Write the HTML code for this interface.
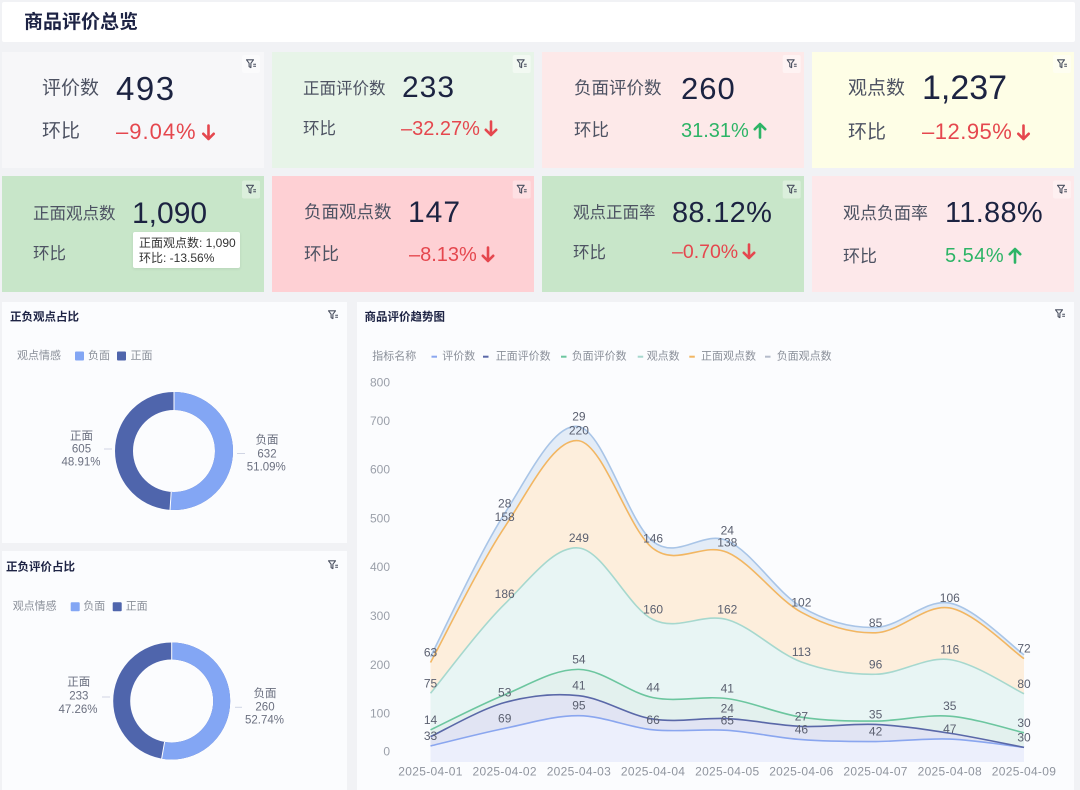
<!DOCTYPE html>
<html><head><meta charset="utf-8"><style>
html,body{margin:0;padding:0;}
body{width:1080px;height:790px;background:#f1f2f5;position:relative;overflow:hidden;font-family:"Liberation Sans","Noto Sans CJK SC",sans-serif;}
.box{position:absolute;}
.t{position:absolute;white-space:nowrap;line-height:1;}
.lab{color:#4d5262;}
.val{color:#1c2341;letter-spacing:1px;}
.dn{color:#e5474e;}
.up{color:#2db466;}
.t svg{vertical-align:-2px;margin-left:4px;}
svg text{font-family:"Liberation Sans","Noto Sans CJK SC",sans-serif;}
</style></head><body>
<div class="box" style="left:2px;top:2px;width:1073px;height:40px;background:#fff;border-radius:2px"></div>
<div class="t" style="left:24px;top:13px;font-size:19px;font-weight:bold;color:#1d2344">商品评价总览</div>

<!-- cards -->
<div class="box" style="left:2px;top:52px;width:262px;height:116px;background:#f7f7f9"></div>
<div class="box" style="left:272px;top:52px;width:262px;height:116px;background:#e7f4e8"></div>
<div class="box" style="left:542px;top:52px;width:262px;height:116px;background:#fde9e9"></div>
<div class="box" style="left:812px;top:52px;width:262px;height:116px;background:#fefee6"></div>
<div class="box" style="left:2px;top:176px;width:262px;height:116px;background:#c8e6c9"></div>
<div class="box" style="left:272px;top:176px;width:262px;height:116px;background:#fed0d4"></div>
<div class="box" style="left:542px;top:176px;width:262px;height:116px;background:#c8e6c9"></div>
<div class="box" style="left:812px;top:176px;width:262px;height:116px;background:#fde8ea"></div>

<!-- card1 -->
<div class="t lab" style="left:42px;top:78.5px;font-size:19px">评价数</div>
<div class="t val" style="left:116px;top:71.5px;font-size:33px;letter-spacing:1.5px">493</div>
<div class="t lab" style="left:42px;top:122px;font-size:19px">环比</div>
<div class="t dn" style="left:116px;top:120.5px;font-size:22px;letter-spacing:1px">–9.04%<svg width="15" height="17" viewBox="0 0 14 17"><path d="M7 1.5V15M1.8 9.8L7 15L12.2 9.8" fill="none" stroke="currentColor" stroke-width="2.6" stroke-linecap="round" stroke-linejoin="round"/></svg></div>
<!-- card2 -->
<div class="t lab" style="left:303px;top:80.75px;font-size:16.5px">正面评价数</div>
<div class="t val" style="left:402px;top:73px;font-size:30px">233</div>
<div class="t lab" style="left:303px;top:120.75px;font-size:16.5px">环比</div>
<div class="t dn" style="left:401px;top:119px;font-size:20px">–32.27%<svg width="14" height="17" viewBox="0 0 14 17"><path d="M7 1.5V15M1.8 9.8L7 15L12.2 9.8" fill="none" stroke="currentColor" stroke-width="2.6" stroke-linecap="round" stroke-linejoin="round"/></svg></div>
<!-- card3 -->
<div class="t lab" style="left:574px;top:79.5px;font-size:17.5px">负面评价数</div>
<div class="t val" style="left:681px;top:72.5px;font-size:31px">260</div>
<div class="t lab" style="left:574px;top:121.75px;font-size:17.5px">环比</div>
<div class="t up" style="left:681px;top:120.5px;font-size:20px">31.31%<svg width="14" height="17" viewBox="0 0 14 17"><path d="M7 15.5V2M1.8 7.2L7 2L12.2 7.2" fill="none" stroke="currentColor" stroke-width="2.6" stroke-linecap="round" stroke-linejoin="round"/></svg></div>
<!-- card4 -->
<div class="t lab" style="left:848px;top:78.5px;font-size:19px">观点数</div>
<div class="t val" style="left:922px;top:70.5px;font-size:34px;letter-spacing:0">1,237</div>
<div class="t lab" style="left:848px;top:122.5px;font-size:19px">环比</div>
<div class="t dn" style="left:922px;top:121px;font-size:22px;letter-spacing:0.5px">–12.95%<svg width="15" height="17" viewBox="0 0 14 17"><path d="M7 1.5V15M1.8 9.8L7 15L12.2 9.8" fill="none" stroke="currentColor" stroke-width="2.6" stroke-linecap="round" stroke-linejoin="round"/></svg></div>
<!-- card5 -->
<div class="t lab" style="left:33px;top:205.75px;font-size:16.5px">正面观点数</div>
<div class="t val" style="left:132px;top:199px;font-size:30px;letter-spacing:0">1,090</div>
<div class="t lab" style="left:33px;top:245.75px;font-size:16.5px">环比</div>
<div class="box" style="left:133px;top:232px;width:107px;height:36px;background:#fff;border-radius:2px;box-shadow:0 1px 3px rgba(0,0,0,0.08)"></div>
<div class="t" style="left:139px;top:236.7px;font-size:12px;color:#333">正面观点数: 1,090</div>
<div class="t" style="left:139px;top:252.3px;font-size:12px;color:#333">环比: -13.56%</div>
<!-- card6 -->
<div class="t lab" style="left:304px;top:204.25px;font-size:17.5px">负面观点数</div>
<div class="t val" style="left:408px;top:197.5px;font-size:30px">147</div>
<div class="t lab" style="left:304px;top:246.25px;font-size:17.5px">环比</div>
<div class="t dn" style="left:409px;top:245px;font-size:20px">–8.13%<svg width="14" height="17" viewBox="0 0 14 17"><path d="M7 1.5V15M1.8 9.8L7 15L12.2 9.8" fill="none" stroke="currentColor" stroke-width="2.6" stroke-linecap="round" stroke-linejoin="round"/></svg></div>
<!-- card7 -->
<div class="t lab" style="left:573px;top:204.75px;font-size:16.5px">观点正面率</div>
<div class="t val" style="left:672px;top:199px;font-size:29px;letter-spacing:0.3px">88.12%</div>
<div class="t lab" style="left:573px;top:244.75px;font-size:16.5px">环比</div>
<div class="t dn" style="left:672px;top:243.25px;font-size:19.5px">–0.70%<svg width="14" height="17" viewBox="0 0 14 17"><path d="M7 1.5V15M1.8 9.8L7 15L12.2 9.8" fill="none" stroke="currentColor" stroke-width="2.6" stroke-linecap="round" stroke-linejoin="round"/></svg></div>
<!-- card8 -->
<div class="t lab" style="left:843px;top:205px;font-size:17px">观点负面率</div>
<div class="t val" style="left:945px;top:199px;font-size:29px;letter-spacing:0.3px">11.88%</div>
<div class="t lab" style="left:843px;top:247.5px;font-size:17px">环比</div>
<div class="t up" style="left:945px;top:246px;font-size:20px;letter-spacing:0.5px">5.54%<svg width="14" height="17" viewBox="0 0 14 17"><path d="M7 15.5V2M1.8 7.2L7 2L12.2 7.2" fill="none" stroke="currentColor" stroke-width="2.6" stroke-linecap="round" stroke-linejoin="round"/></svg></div>

<!-- panels -->
<div class="box" style="left:2px;top:302px;width:345px;height:241px;background:#fbfcfe"></div>
<div class="box" style="left:2px;top:551px;width:345px;height:239px;background:#fbfcfe"></div>
<div class="box" style="left:357px;top:302px;width:717px;height:488px;background:#fbfcfe"></div>

<svg width="1080" height="790" viewBox="0 0 1080 790" style="position:absolute;left:0;top:0">
<!-- icons -->
<g id="icons">
<g transform="translate(246,59)"><rect x="-4" y="-4" width="18" height="18" rx="2" fill="#fff" fill-opacity="0.45"/><path d="M0.5 0.8H7.5L4.9 4.2V8.6L3.1 7.6V4.2Z" fill="none" stroke="#4a5060" stroke-width="1.1" stroke-linejoin="round"/><path d="M7.2 5.3H10M7.2 7.3H10" stroke="#4a5060" stroke-width="1"/></g>
<g transform="translate(516.7,59)"><rect x="-4" y="-4" width="18" height="18" rx="2" fill="#fff" fill-opacity="0.45"/><path d="M0.5 0.8H7.5L4.9 4.2V8.6L3.1 7.6V4.2Z" fill="none" stroke="#4a5060" stroke-width="1.1" stroke-linejoin="round"/><path d="M7.2 5.3H10M7.2 7.3H10" stroke="#4a5060" stroke-width="1"/></g>
<g transform="translate(786.7,59)"><rect x="-4" y="-4" width="18" height="18" rx="2" fill="#fff" fill-opacity="0.45"/><path d="M0.5 0.8H7.5L4.9 4.2V8.6L3.1 7.6V4.2Z" fill="none" stroke="#4a5060" stroke-width="1.1" stroke-linejoin="round"/><path d="M7.2 5.3H10M7.2 7.3H10" stroke="#4a5060" stroke-width="1"/></g>
<g transform="translate(1057,59)"><rect x="-4" y="-4" width="18" height="18" rx="2" fill="#fff" fill-opacity="0.45"/><path d="M0.5 0.8H7.5L4.9 4.2V8.6L3.1 7.6V4.2Z" fill="none" stroke="#4a5060" stroke-width="1.1" stroke-linejoin="round"/><path d="M7.2 5.3H10M7.2 7.3H10" stroke="#4a5060" stroke-width="1"/></g>
<g transform="translate(246,184.5)"><rect x="-4" y="-4" width="18" height="18" rx="2" fill="#fff" fill-opacity="0.35"/><path d="M0.5 0.8H7.5L4.9 4.2V8.6L3.1 7.6V4.2Z" fill="none" stroke="#4a5060" stroke-width="1.1" stroke-linejoin="round"/><path d="M7.2 5.3H10M7.2 7.3H10" stroke="#4a5060" stroke-width="1"/></g>
<g transform="translate(516.7,184.5)"><rect x="-4" y="-4" width="18" height="18" rx="2" fill="#fff" fill-opacity="0.35"/><path d="M0.5 0.8H7.5L4.9 4.2V8.6L3.1 7.6V4.2Z" fill="none" stroke="#4a5060" stroke-width="1.1" stroke-linejoin="round"/><path d="M7.2 5.3H10M7.2 7.3H10" stroke="#4a5060" stroke-width="1"/></g>
<g transform="translate(786.7,184.5)"><rect x="-4" y="-4" width="18" height="18" rx="2" fill="#fff" fill-opacity="0.35"/><path d="M0.5 0.8H7.5L4.9 4.2V8.6L3.1 7.6V4.2Z" fill="none" stroke="#4a5060" stroke-width="1.1" stroke-linejoin="round"/><path d="M7.2 5.3H10M7.2 7.3H10" stroke="#4a5060" stroke-width="1"/></g>
<g transform="translate(1057,184.5)"><rect x="-4" y="-4" width="18" height="18" rx="2" fill="#fff" fill-opacity="0.35"/><path d="M0.5 0.8H7.5L4.9 4.2V8.6L3.1 7.6V4.2Z" fill="none" stroke="#4a5060" stroke-width="1.1" stroke-linejoin="round"/><path d="M7.2 5.3H10M7.2 7.3H10" stroke="#4a5060" stroke-width="1"/></g>
<g transform="translate(328,310)"><path d="M0.5 0.8H7.5L4.9 4.2V8.6L3.1 7.6V4.2Z" fill="none" stroke="#4a5060" stroke-width="1.1" stroke-linejoin="round"/><path d="M7.2 5.3H10M7.2 7.3H10" stroke="#4a5060" stroke-width="1"/></g>
<g transform="translate(328,560)"><path d="M0.5 0.8H7.5L4.9 4.2V8.6L3.1 7.6V4.2Z" fill="none" stroke="#4a5060" stroke-width="1.1" stroke-linejoin="round"/><path d="M7.2 5.3H10M7.2 7.3H10" stroke="#4a5060" stroke-width="1"/></g>
<g transform="translate(1055,309)"><path d="M0.5 0.8H7.5L4.9 4.2V8.6L3.1 7.6V4.2Z" fill="none" stroke="#4a5060" stroke-width="1.1" stroke-linejoin="round"/><path d="M7.2 5.3H10M7.2 7.3H10" stroke="#4a5060" stroke-width="1"/></g>
</g>

<!-- donut panel 1 -->
<text x="10" y="317.5" font-size="11.5" font-weight="bold" fill="#1d2344" dominant-baseline="central">正负观点占比</text>
<text x="17" y="356" font-size="11" fill="#8a8f99" dominant-baseline="central">观点情感</text>
<rect x="75" y="351.5" width="9" height="9" rx="1" fill="#83a6f4"/>
<text x="88" y="356" font-size="11" fill="#8a8f99" dominant-baseline="central">负面</text>
<rect x="117" y="351.5" width="9" height="9" rx="1" fill="#4f65ac"/>
<text x="130.5" y="356" font-size="11" fill="#8a8f99" dominant-baseline="central">正面</text>
<circle cx="174" cy="451" r="50" fill="none" stroke="#4f65ac" stroke-width="18"/>
<circle cx="174" cy="451" r="50" fill="none" stroke="#83a6f4" stroke-width="18" stroke-dasharray="160.5 400" transform="rotate(-90 174 451)"/>
<line x1="174" y1="391" x2="174" y2="411" stroke="#fff" stroke-width="1"/>
<line x1="171.2" y1="491.9" x2="170" y2="510.5" stroke="#fff" stroke-width="1"/>
<line x1="104" y1="449" x2="112" y2="449" stroke="#d0d5e4" stroke-width="1"/>
<line x1="237" y1="453.5" x2="245" y2="453.5" stroke="#d0d5e4" stroke-width="1"/>
<g font-size="11.5" fill="#6b7080" text-anchor="middle" dominant-baseline="central">
<text x="81.5" y="436.7">正面</text><text x="81.5" y="449.5">605</text><text x="81" y="462.7">48.91%</text>
<text x="267" y="440.7">负面</text><text x="267" y="454.3">632</text><text x="266.3" y="467.7">51.09%</text>
</g>

<!-- donut panel 2 -->
<text x="6" y="567.7" font-size="11.5" font-weight="bold" fill="#1d2344" dominant-baseline="central">正负评价占比</text>
<text x="12.7" y="606.7" font-size="11" fill="#8a8f99" dominant-baseline="central">观点情感</text>
<rect x="70.7" y="602.2" width="9" height="9" rx="1" fill="#83a6f4"/>
<text x="83.3" y="606.7" font-size="11" fill="#8a8f99" dominant-baseline="central">负面</text>
<rect x="112.7" y="602.2" width="9" height="9" rx="1" fill="#4f65ac"/>
<text x="125.7" y="606.7" font-size="11" fill="#8a8f99" dominant-baseline="central">正面</text>
<circle cx="171.7" cy="701" r="50" fill="none" stroke="#4f65ac" stroke-width="17"/>
<circle cx="171.7" cy="701" r="50" fill="none" stroke="#83a6f4" stroke-width="17" stroke-dasharray="165.7 400" transform="rotate(-90 171.7 701)"/>
<line x1="171.7" y1="641.5" x2="171.7" y2="660" stroke="#fff" stroke-width="1"/>
<line x1="164.6" y1="741.9" x2="161.6" y2="759" stroke="#fff" stroke-width="1"/>
<line x1="102" y1="697" x2="110" y2="697" stroke="#d0d5e4" stroke-width="1"/>
<line x1="235" y1="707.3" x2="242" y2="707.3" stroke="#d0d5e4" stroke-width="1"/>
<g font-size="11.5" fill="#6b7080" text-anchor="middle" dominant-baseline="central">
<text x="78.8" y="682.3">正面</text><text x="78.8" y="696.7">233</text><text x="78" y="710">47.26%</text>
<text x="265" y="694">负面</text><text x="265" y="707.3">260</text><text x="264.5" y="720.7">52.74%</text>
</g>

<!-- trend chart -->
<text x="364.5" y="317.3" font-size="11.5" font-weight="bold" fill="#1d2344" dominant-baseline="central">商品评价趋势图</text>
<g font-size="11" fill="#8a8f99" dominant-baseline="central">
<text x="372.3" y="356.7">指标名称</text>
<line x1="431.5" y1="356.7" x2="437" y2="356.7" stroke="#8aa6ef" stroke-width="2"/><text x="442.3" y="356.7">评价数</text>
<line x1="483" y1="356.7" x2="488.5" y2="356.7" stroke="#5a68a8" stroke-width="2"/><text x="495.7" y="356.7">正面评价数</text>
<line x1="561" y1="356.7" x2="566.5" y2="356.7" stroke="#6cc69f" stroke-width="2"/><text x="571.7" y="356.7">负面评价数</text>
<line x1="637.7" y1="356.7" x2="643.2" y2="356.7" stroke="#a6d8ce" stroke-width="2"/><text x="646.7" y="356.7">观点数</text>
<line x1="689.3" y1="356.7" x2="694.8" y2="356.7" stroke="#f2b662" stroke-width="2"/><text x="701" y="356.7">正面观点数</text>
<line x1="765" y1="356.7" x2="770.5" y2="356.7" stroke="#b5bccb" stroke-width="2"/><text x="776.7" y="356.7">负面观点数</text>
</g>
<g font-size="12" fill="#9a9fa9" text-anchor="end" dominant-baseline="central">
<text x="390" y="382.7">800</text><text x="390" y="421">700</text><text x="390" y="469.7">600</text><text x="390" y="518.3">500</text><text x="390" y="567">400</text><text x="390" y="616">300</text><text x="390" y="665">200</text><text x="390" y="713.3">100</text><text x="390" y="751.7">0</text>
</g>
<g id="areas"></g>
<g id="lines" fill="none" stroke-width="1.6"></g>
<g font-size="12" fill="#8f949e" text-anchor="middle" dominant-baseline="central" letter-spacing="0.3">
<text x="430.5" y="771.7">2025-04-01</text><text x="504.7" y="771.7">2025-04-02</text><text x="578.9" y="771.7">2025-04-03</text><text x="653.1" y="771.7">2025-04-04</text><text x="727.3" y="771.7">2025-04-05</text><text x="801.4" y="771.7">2025-04-06</text><text x="875.6" y="771.7">2025-04-07</text><text x="949.8" y="771.7">2025-04-08</text><text x="1024" y="771.7">2025-04-09</text>
</g>
<g font-size="12" fill="#5b6070" text-anchor="middle" dominant-baseline="central">
<text x="430.5" y="735.9">33</text><text x="430.5" y="719.8">14</text><text x="430.5" y="683.3">75</text><text x="430.5" y="652.6">63</text>
<text x="504.7" y="718.4">69</text><text x="504.7" y="692.5">53</text><text x="504.7" y="594.1">186</text><text x="504.7" y="517">158</text><text x="504.7" y="503.4">28</text>
<text x="578.9" y="705.7">95</text><text x="578.9" y="685.7">41</text><text x="578.9" y="659.4">54</text><text x="578.9" y="538">249</text><text x="578.9" y="430.7">220</text><text x="578.9" y="416.6">29</text>
<text x="653.1" y="719.8">66</text><text x="653.1" y="687.7">44</text><text x="653.1" y="609.7">160</text><text x="653.1" y="538.5">146</text>
<text x="727.3" y="720.3">65</text><text x="727.3" y="708.6">24</text><text x="727.3" y="688.6">41</text><text x="727.3" y="609.7">162</text><text x="727.3" y="542.4">138</text><text x="727.3" y="530.7">24</text>
<text x="801.4" y="729.6">46</text><text x="801.4" y="716.4">27</text><text x="801.4" y="652.1">113</text><text x="801.4" y="602.3">102</text>
<text x="875.6" y="731.5">42</text><text x="875.6" y="714.5">35</text><text x="875.6" y="664.3">96</text><text x="875.6" y="622.8">85</text>
<text x="949.8" y="729.1">47</text><text x="949.8" y="706.2">35</text><text x="949.8" y="649.6">116</text><text x="949.8" y="598">106</text>
<text x="1024" y="737.4">30</text><text x="1024" y="722.75">30</text><text x="1024" y="683.75">80</text><text x="1024" y="648.65">72</text>
</g>
</svg>

<script>
(function(){
var X0=430.5,DX=74.19;
function Y(v){return 762-v*0.4875;}
var S=[[33,69,95,66,65,46,42,47,30],[19,53,41,22,24,27,35,12,0],[14,16,54,44,41,19,7,35,30],[75,186,249,160,162,113,96,116,80],[63,158,220,146,138,102,85,106,72],[12,28,29,14,24,11,11,10,8]];
var lineC=['#8aa6ef','#5a68a8','#6cc69f','#a6d8ce','#f2b662','#a9c5e7'];
var fillC=['#eceffc','#e1e4f3','#e3f1ee','#e8f5f4','#fdeedc','#e3ecf7'];
var cum=[],base=[0,0,0,0,0,0,0,0,0];
for(var k=0;k<6;k++){var c=[];for(var i=0;i<9;i++){c.push(base[i]+S[k][i]);}cum.push(c);base=c;}
function pts(arr){return arr.map(function(v,i){return [X0+DX*i,Y(v)];});}
function segs(p){var n=p.length,r=[];
function P(i){return p[Math.max(0,Math.min(n-1,i))];}
for(var i=0;i<n-1;i++){var a=P(i-1),b=P(i),c=P(i+1),d=P(i+2);
r.push([b,[b[0]+(c[0]-a[0])/6,b[1]+(c[1]-a[1])/6],[c[0]-(d[0]-b[0])/6,c[1]-(d[1]-b[1])/6],c]);}
return r;}
function f(a){return a[0].toFixed(2)+','+a[1].toFixed(2);}
function fwd(sg){var s='';sg.forEach(function(g){s+=' C'+f(g[1])+' '+f(g[2])+' '+f(g[3]);});return s;}
function bwd(sg){var s='';for(var i=sg.length-1;i>=0;i--){var g=sg[i];s+=' C'+f(g[2])+' '+f(g[1])+' '+f(g[0]);}return s;}
var A='',L='';var lower=pts([0,0,0,0,0,0,0,0,0]),lowerSeg=null;
for(var k=0;k<6;k++){var p=pts(cum[k]);var sg=segs(p);
var d='M'+f(p[0])+fwd(sg)+' L'+f(lower[8])+(k===0?' L'+f(lower[0]):bwd(lowerSeg))+' Z';
A+='<path d="'+d+'" fill="'+fillC[k]+'"/>';
L+='<path d="M'+f(p[0])+fwd(sg)+'" stroke="'+lineC[k]+'"/>';
lower=p;lowerSeg=sg;}
document.getElementById('areas').innerHTML=A;
document.getElementById('lines').innerHTML=L;
})();
</script>
</body></html>
